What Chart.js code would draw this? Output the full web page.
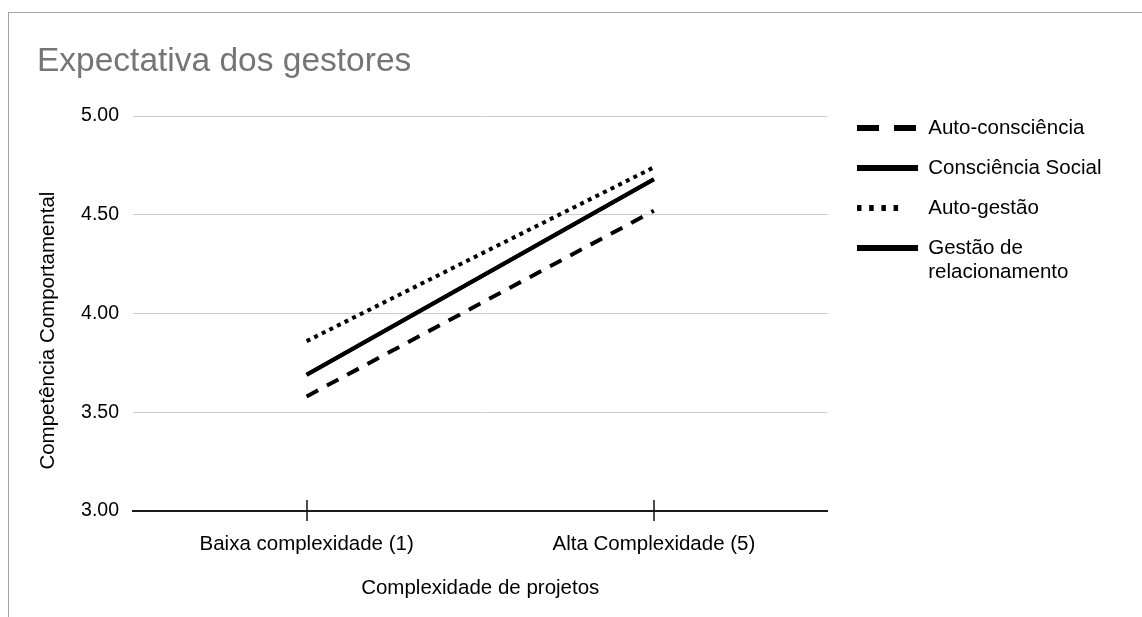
<!DOCTYPE html>
<html>
<head>
<meta charset="utf-8">
<title>Expectativa dos gestores</title>
<script src="https://cdn.jsdelivr.net/npm/chart.js@4.4.1/dist/chart.umd.min.js"></script>
<style>
    html, body { margin: 0; padding: 0; background: #fff; }
    #frame {
        position: absolute; left: 8px; top: 12px; width: 1140px; height: 610px;
        border-top: 1px solid #a3a3a3; border-left: 1px solid #a3a3a3;
        pointer-events: none;
    }
    #chart { position: absolute; left: 0; top: 0; }
</style>
</head>
<body>
<canvas id="chart" width="1142" height="617"></canvas>
<div id="frame"></div>
<script>
// Chart data
const categories = ['Baixa complexidade (1)', 'Alta Complexidade (5)'];
const autoConsciencia = [3.58, 4.52];
const conscienciaSocial = [3.69, 4.68];
const autoGestao = [3.86, 4.74];
const gestaoRelacionamento = [3.69, 4.68];
const yTickLabels = ['3.00', '3.50', '4.00', '4.50', '5.00'];

const FONT = '"Liberation Sans", Arial, Helvetica, sans-serif';
const INK = '#000';

// legend samples are drawn a bit heavier than the plotted lines
const legendDash = [
    [22, 15],
    [],
    [4.5, 7.7, 4.5, 7.7, 4.5, 7.7, 4.5, 20],
    []
];

// crossing tick marks on the category axis
const tickMarks = {
    id: 'tickMarks',
    afterDraw(chart) {
        const ctx = chart.ctx;
        const x = chart.scales.x;
        const y0 = chart.chartArea.bottom;
        ctx.save();
        ctx.strokeStyle = '#111';
        ctx.lineWidth = 1.5;
        x.ticks.forEach((t, i) => {
            const px = Math.round(x.getPixelForTick(i));
            ctx.beginPath();
            ctx.moveTo(px, y0 - 11);
            ctx.lineTo(px, y0 + 10);
            ctx.stroke();
        });
        ctx.restore();
    }
};

// move the legend block a little, the layout engine pins it to the plot area
const legendNudge = {
    id: 'legendNudge',
    afterLayout(chart) {
        const lg = chart.legend;
        lg.left += 10; lg.right += 10;
        lg.top -= 17.75; lg.bottom -= 17.75;
    }
};

function createChart() {
    Chart.defaults.font.family = FONT;
    Chart.defaults.color = INK;

    const ctx = document.getElementById('chart').getContext('2d');

    new Chart(ctx, {
        type: 'line',
        data: {
            labels: categories,
            datasets: [
                { label: 'Auto-consciência', data: autoConsciencia, borderColor: INK, backgroundColor: INK, borderDash: [13, 10] },
                { label: 'Consciência Social', data: conscienciaSocial, borderColor: INK, backgroundColor: INK },
                { label: 'Auto-gestão', data: autoGestao, borderColor: INK, backgroundColor: INK, borderDash: [4, 4.5] },
                { label: ['Gestão de', 'relacionamento'], data: gestaoRelacionamento, borderColor: INK, backgroundColor: INK }
            ]
        },
        options: {
            responsive: false,
            animation: false,
            datasets: {
                line: {
                    borderWidth: 4,
                    borderCapStyle: 'butt',
                    pointRadius: 0,
                    pointHoverRadius: 0,
                    tension: 0,
                    fill: false
                }
            },
            layout: {
                padding: { left: 37, right: 51, top: 0, bottom: 0 }
            },
            plugins: {
                title: {
                    display: true,
                    text: 'Expectativa dos gestores',
                    align: 'start',
                    color: '#757575',
                    font: { size: 33.5, weight: 'normal' },
                    padding: { top: 42, bottom: 33.8 }
                },
                legend: {
                    position: 'right',
                    align: 'start',
                    fullSize: false,
                    labels: {
                        usePointStyle: true,
                        pointStyle: 'line',
                        pointStyleWidth: 61,
                        padding: 19.5,
                        color: INK,
                        font: { size: 20.5, lineHeight: 1.17 },
                        generateLabels(chart) {
                            const items = Chart.defaults.plugins.legend.labels.generateLabels(chart);
                            items.forEach((item, i) => {
                                item.lineWidth = 6;
                                item.lineDash = legendDash[i];
                                item.lineDashOffset = 0;
                                item.strokeStyle = INK;
                                item.fillStyle = INK;
                                item.pointStyle = 'line';
                            });
                            return items;
                        }
                    }
                },
                tooltip: { enabled: false }
            },
            scales: {
                x: {
                    offset: true,
                    grid: {
                        display: true,
                        offset: false,
                        drawOnChartArea: false,
                        drawTicks: true,
                        tickLength: 10,
                        color: 'rgba(0,0,0,0)'
                    },
                    border: { display: true, color: '#1a1a1a', width: 2 },
                    ticks: { padding: 11, font: { size: 20.5 }, color: INK, maxRotation: 0 },
                    title: {
                        display: true,
                        text: 'Complexidade de projetos',
                        font: { size: 20.5 },
                        color: INK,
                        padding: { top: 0, bottom: 16.2 }
                    },
                    afterFit(s) { s.height = 106; }
                },
                y: {
                    min: 3,
                    max: 5,
                    ticks: {
                        stepSize: 0.5,
                        padding: 14,
                        font: { size: 19.5 },
                        color: INK,
                        callback: (v, i) => yTickLabels[i]
                    },
                    grid: {
                        drawTicks: false,
                        lineWidth: 1,
                        color: (c) => c.tick && c.tick.value === 3 ? 'rgba(0,0,0,0)' : '#cccccc'
                    },
                    border: { display: false },
                    title: {
                        display: true,
                        text: 'Competência Comportamental' + '\u00a0'.repeat(6),
                        font: { size: 20.5 },
                        color: INK,
                        padding: { top: -1, bottom: 0 }
                    },
                    afterFit(s) { s.width = 96; }
                }
            }
        },
        plugins: [tickMarks, legendNudge]
    });
}

window.onload = createChart;
</script>
</body>
</html>
